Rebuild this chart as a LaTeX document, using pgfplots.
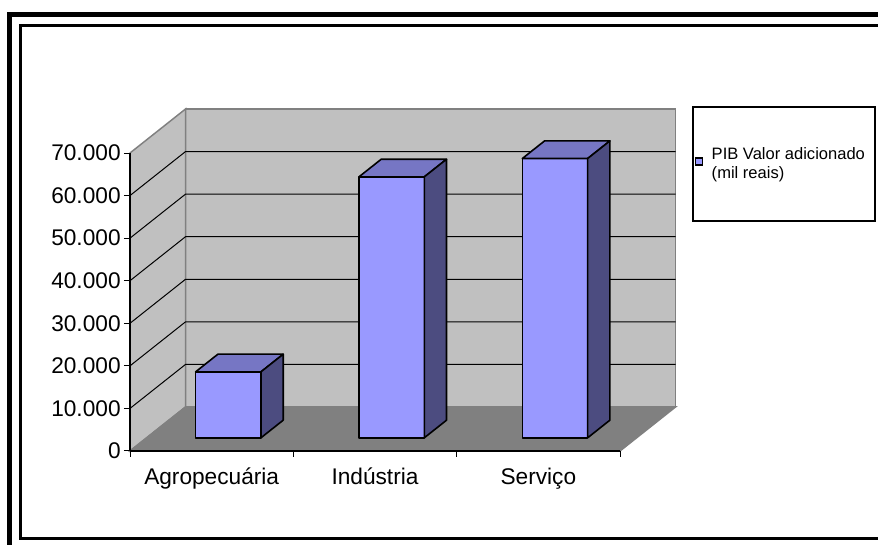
\documentclass[border=0pt]{standalone}
\usepackage{fontspec}
\setmainfont{Liberation Sans}
\usepackage{pgfplots}
\pgfplotsset{compat=1.18}
\definecolor{wall}{HTML}{C0C0C0}
\definecolor{wallline}{HTML}{808080}
\definecolor{floorc}{HTML}{808080}
\definecolor{barfront}{HTML}{9999FF}
\definecolor{bartop}{HTML}{7676C4}
\definecolor{barside}{HTML}{4C4C80}
\tikzset{barstyle/.style={draw=black, line width=1.2pt, line join=round}}
% 3D bar: #1 = category index, #2 = value (thousands)
\newcommand\tdbar[2]{%
  \pgfmathsetmacro\xa{#1+0.402}%
  \pgfmathsetmacro\xb{#1+0.802}%
  \pgfmathsetmacro\xc{#1+0.938}%
  \pgfmathsetmacro\xd{#1+0.538}%
  \pgfmathsetmacro\ya{3.102}%
  \pgfmathsetmacro\yab{3.102+4.136}%
  \pgfmathsetmacro\yt{3.102+#2}%
  \pgfmathsetmacro\ytb{3.102+#2+4.136}%
  \edef\tmp{%
    \noexpand\addplot[barstyle, fill=barfront, forget plot] coordinates {(\xa,\ya) (\xb,\ya) (\xb,\yt) (\xa,\yt)} -- cycle;
    \noexpand\addplot[barstyle, fill=bartop, forget plot] coordinates {(\xa,\yt) (\xb,\yt) (\xc,\ytb) (\xd,\ytb)} -- cycle;
    \noexpand\addplot[barstyle, fill=barside, forget plot] coordinates {(\xb,\ya) (\xc,\yab) (\xc,\ytb) (\xb,\yt)} -- cycle;
  }\tmp}
\begin{document}
\begin{tikzpicture}[x=0.75pt,y=0.75pt]
\useasboundingbox (0,0) rectangle (878,545);
\fill[white] (0,0) rectangle (878,545);
\begin{axis}[
  at={(97.5pt,70.5pt)}, anchor=south west,
  scale only axis, width=367.5pt, height=223.5pt,
  xmin=0, xmax=3, ymin=0, ymax=70,
  clip=false, axis on top,
  axis x line*=bottom, axis y line*=left,
  axis line style={black, line width=0.9pt, -},
  xtick={0,1,2,3},
  xticklabels={Agropecuária,Indústria,Serviço},
  x tick label as interval,
  ytick={0,10,20,30,40,50,60,70},
  yticklabels={0,10.000,20.000,30.000,40.000,50.000,60.000,70.000},
  tick align=outside, major tick length=4.5pt,
  tick style={black, line width=0.75pt},
  tick label style={font=\fontsize{17}{20}\selectfont},
  xticklabel style={text height=15.5pt, text depth=4pt, yshift=-1.5pt},
  yticklabel style={xshift=1pt},
  legend style={at={(1.152,0.963)}, anchor=west, draw=none, fill=none,
    inner sep=0pt, column sep=6.5pt,
    font=\fontsize{12.4}{14.5}\selectfont,
    nodes={inner sep=0pt, align=left}},
]
\addlegendimage{legend image code/.code={\draw[fill=barfront, draw=black, line width=1pt] (0pt,-0.8pt) rectangle (5.25pt,4.45pt);}}
\addlegendentry{PIB Valor adicionado\\(mil reais)}
% walls and floor
\addplot[fill=wall, draw=wallline, line width=1.1pt, forget plot] coordinates {(0.34,10.34) (3.34,10.34) (3.34,80.34) (0.34,80.34)} -- cycle;
\addplot[fill=wall, draw=wallline, line width=1.1pt, forget plot] coordinates {(0,0) (0.34,10.34) (0.34,80.34) (0,70)} -- cycle;
\addplot[fill=floorc, draw=wallline, line width=1.1pt, forget plot] coordinates {(0,0) (3,0) (3.34,10.34) (0.34,10.34)} -- cycle;
% gridlines
\addplot[black, line width=0.75pt, forget plot] coordinates {(0,10) (0.34,20.34) (3.34,20.34)};
\addplot[black, line width=0.75pt, forget plot] coordinates {(0,20) (0.34,30.34) (3.34,30.34)};
\addplot[black, line width=0.75pt, forget plot] coordinates {(0,30) (0.34,40.34) (3.34,40.34)};
\addplot[black, line width=0.75pt, forget plot] coordinates {(0,40) (0.34,50.34) (3.34,50.34)};
\addplot[black, line width=0.75pt, forget plot] coordinates {(0,50) (0.34,60.34) (3.34,60.34)};
\addplot[black, line width=0.75pt, forget plot] coordinates {(0,60) (0.34,70.34) (3.34,70.34)};
% bars (values in thousands of mil reais)
\tdbar{0}{15.5}
\tdbar{1}{61.3}
\tdbar{2}{65.6}
\end{axis}
% legend box
\draw[black, line width=0.9pt] (693,438) rectangle (875,324);
% frame
\draw[black, line width=1.6pt] (900,519.5) -- (20.5,519.5) -- (20.5,6.5) -- (900,6.5);
\draw[black, line width=4pt] (9.5,-5) -- (9.5,530.5) -- (900,530.5);
\end{tikzpicture}
\end{document}
